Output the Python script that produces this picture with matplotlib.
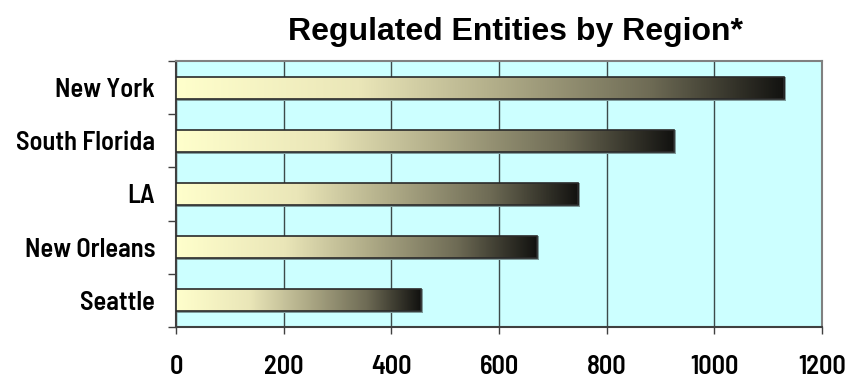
import matplotlib
matplotlib.use("Agg")
import matplotlib.pyplot as plt
import numpy as np
from matplotlib.colors import LinearSegmentedColormap
from matplotlib.patches import Rectangle

# data
regions = ["New York", "South Florida", "LA", "New Orleans", "Seattle"]
entities = [1130, 925, 747, 670, 455]
x_ticks = [0, 200, 400, 600, 800, 1000, 1200]

tick_font = ["Liberation Sans Narrow", "Barlow Semi Condensed", "DejaVu Sans"]
title_font = ["Liberation Sans", "DejaVu Sans"]

# light yellow fading to black along each bar
grad = LinearSegmentedColormap.from_list(
    "bar_grad",
    [(0.0, "#ffffcc"), (0.3, "#eae6b8"), (0.53, "#b0ac88"),
     (0.78, "#6e6b55"), (1.0, "#121210")])

fig = plt.figure(figsize=(8.47, 3.79), dpi=100)
ax = fig.add_axes([176 / 847, 1 - 327 / 379, 646 / 847, 266 / 379])
ax.set_facecolor("#ccffff")

ypos = np.arange(len(regions))
bar_h = 0.41
ax.set_xlim(0, 1200)
ax.set_ylim(len(regions) - 0.5, -0.5)

ramp = np.linspace(0, 1, 256).reshape(1, -1)
for y, v in zip(ypos, entities):
    # drop shadow
    ax.add_patch(Rectangle((0, y - bar_h / 2), v + 4, bar_h + 0.04,
                           facecolor="#7f9c9c", edgecolor="none", zorder=2))
    rect = Rectangle((0, y - bar_h / 2), v, bar_h, facecolor="none",
                     edgecolor="#2a2a2a", linewidth=1.2, zorder=4)
    ax.add_patch(rect)
    im = ax.imshow(ramp, cmap=grad, aspect="auto", zorder=3,
                   extent=(0, v, y + bar_h / 2, y - bar_h / 2))
    im.set_clip_path(rect)

ax.set_xticks(x_ticks)
ax.xaxis.grid(True, color="#3c4a4a", linewidth=1.0, zorder=1)
ax.set_axisbelow(True)

ax.set_yticks(ypos)
ax.set_yticklabels(regions)
ax.set_yticks(np.arange(-0.5, len(regions)), minor=True)
ax.tick_params(axis="y", which="major", length=0, pad=15)
ax.tick_params(axis="y", which="minor", length=6, width=1, color="#404040")
ax.tick_params(axis="x", length=5, width=1, color="#404040", pad=15)

for lab in ax.get_yticklabels() + ax.get_xticklabels():
    lab.set_family(tick_font)
    lab.set_fontsize(19)
    lab.set_fontweight(600)

ax.spines["left"].set_color("#404040")
ax.spines["bottom"].set_color("#404040")
ax.spines["top"].set_color("#808080")
ax.spines["right"].set_color("#808080")
for s in ax.spines.values():
    s.set_linewidth(1.5)

fig.text(515 / 847, 1 - 40 / 379, "Regulated Entities by Region*",
         ha="center", va="baseline", fontsize=23, fontweight="bold",
         family=title_font)

fig.savefig("out.png", dpi=100)
